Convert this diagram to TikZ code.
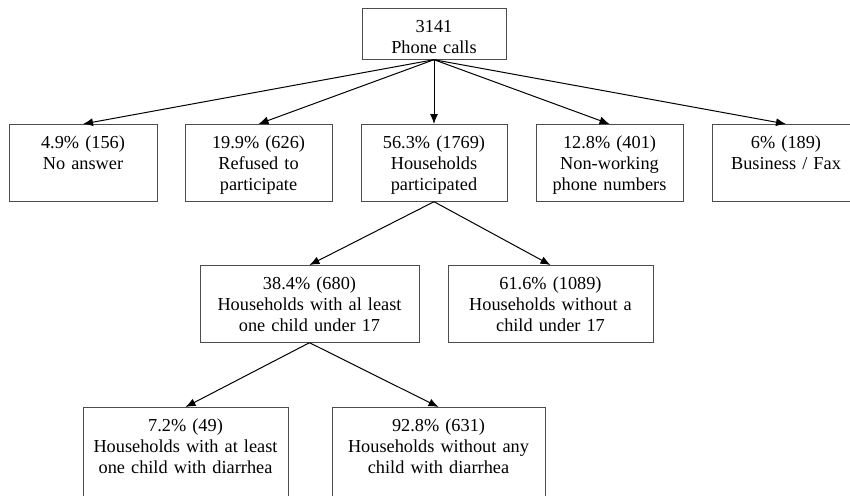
\documentclass[tikz,border=0pt]{standalone}
\usepackage{fontspec}
\setmainfont{Liberation Serif}
\usepackage{tikz}
\usetikzlibrary{arrows.meta,positioning}

\begin{document}
\begin{tikzpicture}[x=1pt,y=-1pt,
                    box/.style={draw=black!70, line width=0.7pt, anchor=north, align=center,
                                inner sep=0pt, text height=24pt, text depth=53pt,
                                font=\fontsize{18.3}{21}\selectfont},
                    link/.style={-{Latex[length=10pt,width=8pt]}, line width=1pt}]
                    \useasboundingbox (0,0) rectangle (850,495);
                    % top
                    \node [box, text width=144pt, text depth=27pt] (calls) at (434,8) {3141\\Phone calls};
                    % second row
                    \node [box, text width=148pt] (noanswer) at (83,124) {4.9\% (156)\\No answer};
                    \node [box, text width=147pt] (refused) at (258.5,124) {19.9\% (626)\\Refused to\\participate};
                    \node [box, text width=146pt] (participated) at (434,124) {56.3\% (1769)\\Households\\participated};
                    \node [box, text width=147pt] (nonworking) at (609.5,124) {12.8\% (401)\\Non-working\\phone numbers};
                    \node [box, text width=148pt] (business) at (786,124) {6\% (189)\\Business / Fax};
                    % third row
                    \node [box, text width=219pt] (withchild) at (309.5,265) {38.4\% (680)\\Households with al least\\one child under 17};
                    \node [box, text width=205pt] (nochild) at (550.5,265) {61.6\% (1089)\\Households without a\\child under 17};
                    % fourth row
                    \node [box, text width=205pt, text depth=100pt] (diarrhea) at (185.5,407) {7.2\% (49)\\Households with at least\\one child with diarrhea};
                    \node [box, text width=213pt, text depth=100pt] (nodiarrhea) at (438.5,407) {92.8\% (631)\\Households without any\\child with diarrhea};
                    \draw [link] (calls.south) -- (noanswer.north);
                    \draw [link] (calls.south) -- (refused.north);
                    \draw [link] (calls.south) -- (participated.north);
                    \draw [link] (calls.south) -- (nonworking.north);
                    \draw [link] (calls.south) -- (business.north);
                    \draw [link] (participated.south) -- (withchild.north);
                    \draw [link] (participated.south) -- (nochild.north);
                    \draw [link] (withchild.south) -- (diarrhea.north);
                    \draw [link] (withchild.south) -- (nodiarrhea.north);
                \end{tikzpicture}
\end{document}
